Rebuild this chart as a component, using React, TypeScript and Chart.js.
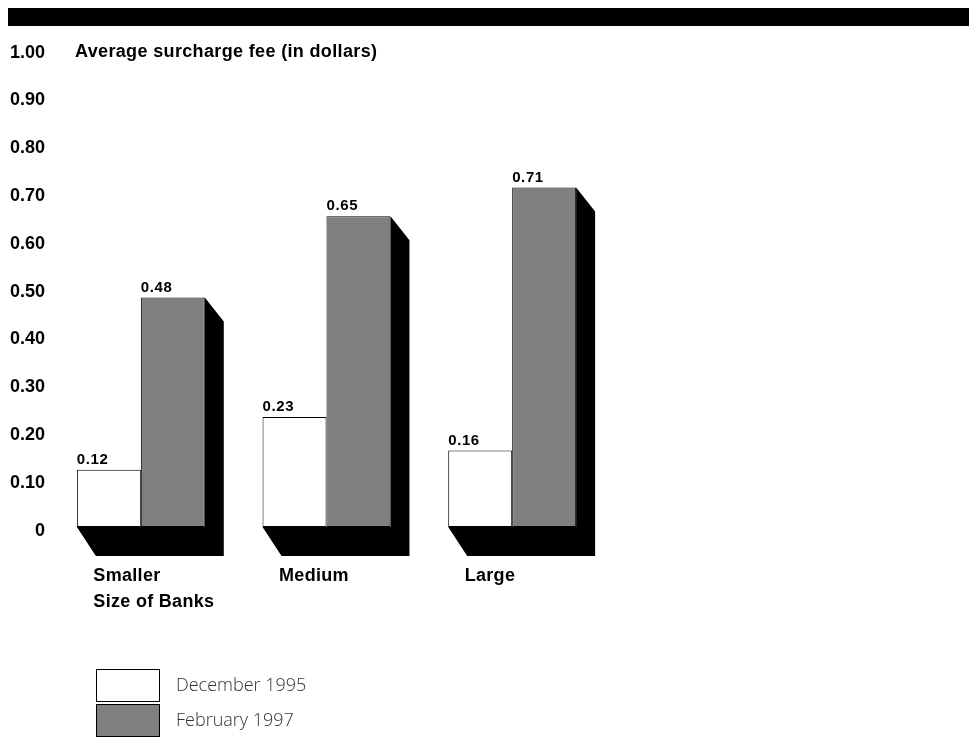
import React, { useEffect, useRef } from "react";
import { Chart, registerables } from "chart.js";

Chart.register(...registerables);

const categories = ["Smaller", "Medium", "Large"];
const dec1995 = [0.12, 0.23, 0.16];
const feb1997 = [0.48, 0.65, 0.71];
const yTicks = [0, 0.1, 0.2, 0.3, 0.4, 0.5, 0.6, 0.7, 0.8, 0.9, 1.0];
const yTickLabels = ["0", "0.10", "0.20", "0.30", "0.40", "0.50", "0.60", "0.70", "0.80", "0.90", "1.00"];
const seriesNames = ["December 1995", "February 1997"];
const yTitle = "Average surcharge fee (in dollars)";
const xTitle = "Size of Banks";

const W = 969;
const H = 738;
const GRAY = "#808080";
const FONT = "'Liberation Sans', Arial, sans-serif";

const decorPlugin = {
  id: "decor",
  beforeDatasetsDraw(chart: any) {
    const ctx = chart.ctx;
    const m0 = chart.getDatasetMeta(0);
    const m1 = chart.getDatasetMeta(1);
    ctx.save();
    ctx.fillStyle = "#000";
    for (let i = 0; i < categories.length; i++) {
      const a = m0.data[i];
      const b = m1.data[i];
      const left = a.x - a.width / 2;
      const right = b.x + b.width / 2;
      const top = b.y;
      const base = b.base;
      ctx.beginPath();
      ctx.moveTo(right, top);
      ctx.lineTo(right + 19, top + 24);
      ctx.lineTo(right + 19, base + 29);
      ctx.lineTo(left + 19, base + 29);
      ctx.lineTo(left, base);
      ctx.lineTo(right, base);
      ctx.closePath();
      ctx.fill();
    }
    ctx.restore();
  },
  afterDraw(chart: any) {
    const ctx = chart.ctx;
    const ys = chart.scales.y;
    ctx.save();
    // top black band
    ctx.fillStyle = "#000";
    ctx.fillRect(8, 8, W - 8, 18);
    // y tick labels
    ctx.font = "bold 18px " + FONT;
    ctx.fillStyle = "#000";
    ctx.textAlign = "right";
    ctx.textBaseline = "alphabetic";
    yTicks.forEach((v, i) => {
      ctx.fillText(yTickLabels[i], 45, ys.getPixelForValue(v) + 8.5);
    });
    // y title
    ctx.textAlign = "left";
    (ctx as any).letterSpacing = "0.35px";
    ctx.fillText(yTitle, 75, ys.getPixelForValue(1) + 8);
    // value labels
    ctx.font = "bold 15px " + FONT;
    (ctx as any).letterSpacing = "0.6px";
    [0, 1].forEach((d) => {
      const meta = chart.getDatasetMeta(d);
      const vals = d === 0 ? dec1995 : feb1997;
      meta.data.forEach((bar: any, i: number) => {
        ctx.fillText(vals[i].toFixed(2), bar.x - bar.width / 2, bar.y - 6);
      });
    });
    // category labels
    ctx.font = "bold 18px " + FONT;
    (ctx as any).letterSpacing = "0.3px";
    const m0 = chart.getDatasetMeta(0);
    categories.forEach((c, i) => {
      const a = m0.data[i];
      ctx.fillText(c, a.x - a.width / 2 + 16.5, 581);
    });
    const a0 = m0.data[0];
    ctx.fillText(xTitle, a0.x - a0.width / 2 + 16.5, 607);
    (ctx as any).letterSpacing = "0px";
    // legend
    const boxes = [
      { y: 669, fill: "#ffffff" },
      { y: 704, fill: GRAY },
    ];
    boxes.forEach((b, i) => {
      ctx.fillStyle = b.fill;
      ctx.fillRect(96, b.y, 64, 33);
      ctx.strokeStyle = "#000";
      ctx.lineWidth = 1;
      ctx.strokeRect(96.5, b.y + 0.5, 63, 32);
      ctx.fillStyle = "#333";
      ctx.font = "300 18px 'Open Sans', 'Noto Sans', sans-serif";
      ctx.textAlign = "left";
      ctx.textBaseline = "middle";
      ctx.fillText(seriesNames[i], 176, b.y + 17);
    });
    ctx.restore();
  },
};

export default function App() {
  const ref = useRef<HTMLCanvasElement | null>(null);
  useEffect(() => {
    if (!ref.current) return;
    const chart = new Chart(ref.current, {
      type: "bar",
      data: {
        labels: categories,
        datasets: [
          {
            label: seriesNames[0],
            data: dec1995,
            backgroundColor: "#ffffff",
            borderColor: "#000",
            borderWidth: 1,
            borderSkipped: false,
          },
          {
            label: seriesNames[1],
            data: feb1997,
            backgroundColor: GRAY,
            borderColor: "#000",
            borderWidth: 1,
            borderSkipped: false,
          },
        ],
      },
      options: {
        responsive: false,
        animation: false,
        devicePixelRatio: 1,
        layout: { padding: { left: 48, top: 49, right: W - 605, bottom: H - 527 } },
        datasets: { bar: { barPercentage: 1, categoryPercentage: 0.689 } },
        scales: {
          x: { display: false },
          y: { display: false, min: 0, max: 1 },
        },
        plugins: {
          legend: { display: false },
          tooltip: { enabled: false },
        },
      },
      plugins: [decorPlugin],
    });
    return () => chart.destroy();
  }, []);
  return (
    <div style={{ position: "fixed", left: 0, top: 0, width: W, height: H, background: "#fff" }}>
      <canvas ref={ref} width={W} height={H} style={{ display: "block", width: W, height: H }} />
    </div>
  );
}
